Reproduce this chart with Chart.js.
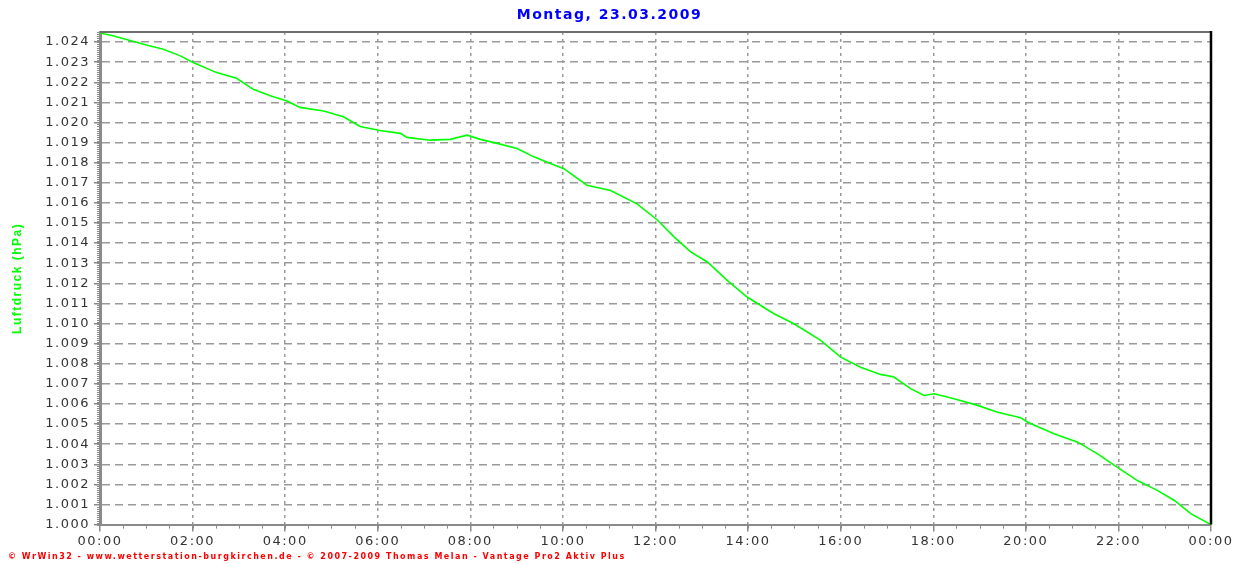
<!DOCTYPE html>
<html>
<head>
<meta charset="utf-8">
<script src="https://cdn.jsdelivr.net/npm/chart.js@4.4.1/dist/chart.umd.min.js"></script>
<style>
  html, body { margin: 0; padding: 0; background: #fff; }
  #wrap { width: 1240px; height: 564px; }
</style>
</head>
<body>
<div id="wrap"><canvas id="pressureChart"></canvas></div>
<script>
// --- DATA ---
const chartTitle = 'Montag, 23.03.2009';
const footerText = '\u00A9 WrWin32 - www.wetterstation-burgkirchen.de - \u00A9 2007-2009 Thomas Melan - Vantage Pro2 Aktiv Plus';
const axisTitle = 'Luftdruck (hPa)';

// hour of day
const hours = [
  0.00, 0.30, 0.65, 1.00, 1.35, 1.70, 2.00, 2.52, 2.95, 3.31,
  3.68, 4.04, 4.32, 4.83, 5.26, 5.62, 6.05, 6.49, 6.63, 7.14,
  7.57, 7.93, 8.22, 8.58, 9.01, 9.37, 9.73, 10.02, 10.52, 11.03,
  11.60, 12.04, 12.40, 12.76, 13.12, 13.55, 13.98, 14.56, 14.99, 15.57,
  16.00, 16.43, 16.86, 17.15, 17.51, 17.80, 18.02, 18.45, 18.96, 19.39,
  19.89, 20.04, 20.61, 21.12, 21.55, 21.98, 22.41, 22.85, 23.21, 23.57,
  24.00
];
// air pressure, hPa
const pressure = [
  1024.45, 1024.30, 1024.08, 1023.85, 1023.65, 1023.35, 1023.00, 1022.48, 1022.20, 1021.65,
  1021.33, 1021.07, 1020.75, 1020.57, 1020.28, 1019.80, 1019.60, 1019.46, 1019.26, 1019.12,
  1019.16, 1019.37, 1019.16, 1018.96, 1018.71, 1018.29, 1017.96, 1017.70, 1016.88, 1016.62,
  1015.95, 1015.15, 1014.31, 1013.56, 1013.06, 1012.15, 1011.32, 1010.49, 1009.99, 1009.16,
  1008.33, 1007.83, 1007.47, 1007.34, 1006.76, 1006.42, 1006.51, 1006.26, 1005.93, 1005.59,
  1005.31, 1005.09, 1004.52, 1004.10, 1003.52, 1002.85, 1002.19, 1001.69, 1001.20, 1000.53,
  1000.00
];

// axis ranges
const xMin = 0, xMax = 24, xStep = 2, xMinorStep = 0.5;
const yMin = 1000, yMax = 1024.5, yStep = 1, yMinorStep = 0.1;

// --- PLUGINS ---
// wide old-style lettering
const spacingPlugin = {
  id: 'spacing',
  beforeUpdate(chart) { chart.ctx.letterSpacing = '1.5px'; },
  beforeDraw(chart) { chart.ctx.letterSpacing = '1.5px'; }
};

// minor ticks + plot frame
const framePlugin = {
  id: 'frame',
  afterDraw(chart) {
    const ctx = chart.ctx;
    const { left, right, top, bottom } = chart.chartArea;
    const xs = chart.scales.x, ys = chart.scales.y;
    ctx.save();
    ctx.strokeStyle = '#8a8a8a';
    ctx.lineWidth = 1;
    ctx.beginPath();
    for (let v = xMin + xMinorStep; v < xMax; v += xMinorStep) {
      const px = Math.round(xs.getPixelForValue(v)) + 0.5;
      ctx.moveTo(px, bottom);
      ctx.lineTo(px, bottom + 4);
    }
    for (let v = yMin; v <= yMax + 1e-9; v += yMinorStep) {
      const py = Math.round(ys.getPixelForValue(v)) + 0.5;
      ctx.moveTo(left - 3, py);
      ctx.lineTo(left, py);
    }
    ctx.stroke();

    // top edge
    ctx.strokeStyle = '#6e6e6e';
    ctx.lineWidth = 2;
    ctx.beginPath();
    ctx.moveTo(left, top);
    ctx.lineTo(right, top);
    ctx.stroke();
    // right edge
    ctx.strokeStyle = '#000';
    ctx.lineWidth = 2.5;
    ctx.beginPath();
    ctx.moveTo(right, top - 1);
    ctx.lineTo(right, bottom);
    ctx.stroke();
    ctx.restore();
  }
};

// --- CHART ---
const ctx = document.getElementById('pressureChart').getContext('2d');
const pressureChart = new Chart(ctx, {
  type: 'line',
  data: {
    datasets: [{
      label: axisTitle,
      data: hours.map((h, i) => ({ x: h, y: pressure[i] })),
      borderColor: '#00ff00',
      borderWidth: 1.6,
      pointRadius: 0,
      tension: 0,
      fill: false
    }]
  },
  options: {
    responsive: true,
    maintainAspectRatio: false,
    animation: false,
    layout: { padding: { left: 8, right: 29, top: 0, bottom: 0 } },
    plugins: {
      legend: { display: false },
      tooltip: { enabled: false },
      title: {
        display: true,
        text: chartTitle,
        color: '#0000ff',
        font: { family: 'DejaVu Sans', size: 14, weight: 'bold' },
        padding: { top: 7, bottom: 8.2 }
      },
      subtitle: {
        display: true,
        text: footerText,
        position: 'bottom',
        align: 'start',
        color: '#ff0000',
        font: { family: 'DejaVu Sans', size: 8, weight: 'bold' },
        padding: { top: 0, bottom: 2.4 }
      }
    },
    scales: {
      x: {
        type: 'linear',
        min: xMin,
        max: xMax,
        afterFit: s => { s.height = 27.4; },
        ticks: {
          stepSize: xStep,
          color: '#333',
          font: { family: 'DejaVu Sans', size: 13 },
          padding: 2,
          maxRotation: 0,
          callback: v => String(v % 24).padStart(2, '0') + ':00'
        },
        grid: {
          color: '#9a9a9a',
          lineWidth: 1.5,
          tickLength: 7,
          tickColor: '#8a8a8a',
          tickWidth: 1.5
        },
        border: { display: true, color: '#8a8a8a', width: 2, dash: [3, 4] }
      },
      y: {
        type: 'linear',
        min: yMin,
        max: yMax,
        afterFit: s => { s.width = 92; },
        ticks: {
          stepSize: yStep,
          includeBounds: false,
          color: '#333',
          font: { family: 'DejaVu Sans', size: 13 },
          padding: 4,
          callback: v => (v / 1000).toFixed(3)
        },
        grid: {
          color: '#9a9a9a',
          lineWidth: 1.5,
          tickLength: 6,
          tickColor: '#8a8a8a',
          tickWidth: 1.5
        },
        border: { display: true, color: '#8a8a8a', width: 3, dash: [8, 5] },
        title: {
          display: true,
          text: axisTitle,
          color: '#00ff00',
          font: { family: 'Liberation Sans', size: 12, weight: 'bold' },
          padding: { top: 2, bottom: 0 }
        }
      }
    }
  },
  plugins: [spacingPlugin, framePlugin]
});
</script>
</body>
</html>
